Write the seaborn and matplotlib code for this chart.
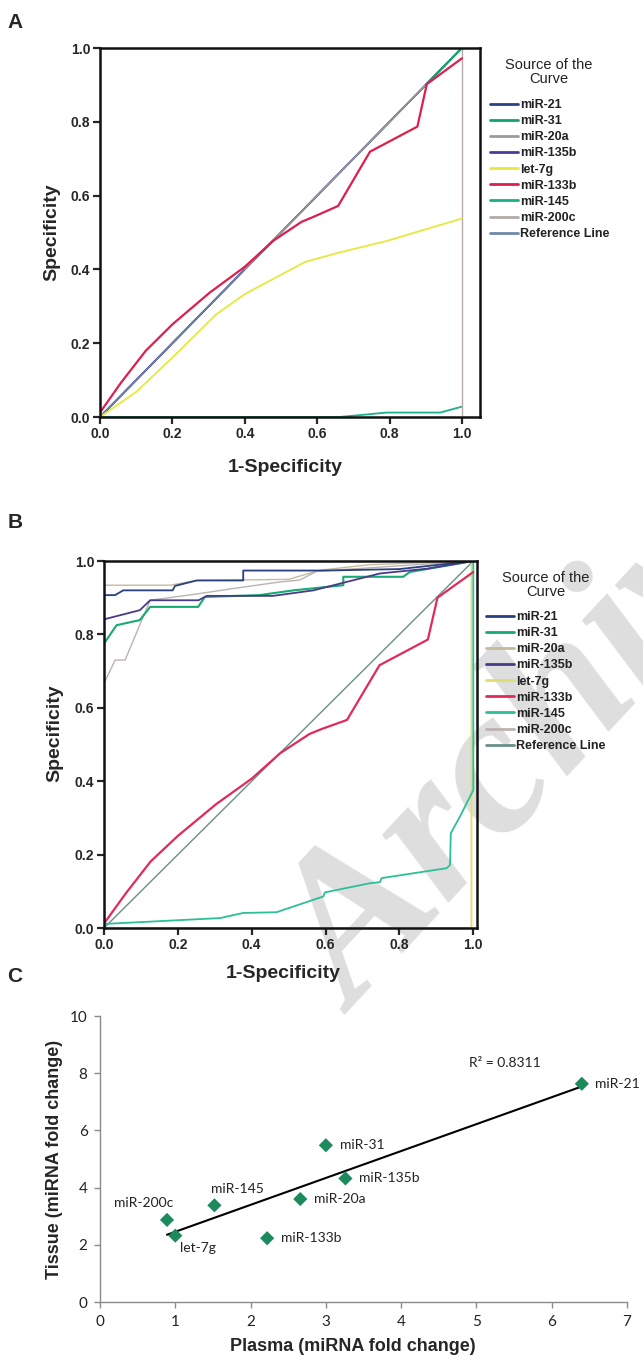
import numpy as np
import pandas as pd
import seaborn as sns
import matplotlib.pyplot as plt
from matplotlib.lines import Line2D

# Style
sns.set_style("ticks")
plt.rcParams['font.family'] = ['Liberation Sans', 'DejaVu Sans']
NARROW = ['Liberation Sans Narrow', 'Liberation Sans', 'DejaVu Sans']
CAL = ['Lato', 'DejaVu Sans']

curve_names = ["miR-21", "miR-31", "miR-20a", "miR-135b", "let-7g",
               "miR-133b", "miR-145", "miR-200c", "Reference Line"]
roc_ticks = [0.0, 0.2, 0.4, 0.6, 0.8, 1.0]
roc_ticklabels = ["0.0", "0.2", "0.4", "0.6", "0.8", "1.0"]

# ---- panel A curves ----
a_21_x = [0, 1.0]
a_21_y = [0, 1.0]
a_31_x = [0.9, 1.0]
a_31_y = [0.9, 1.0]
a_20a_x = [0.4, 1.0]
a_20a_y = [0.4, 1.0]
a_135b_x = [0, 1.0]
a_135b_y = [0, 1.0]
a_let7g_x = [0, 0.1, 0.2, 0.321, 0.4, 0.566, 0.658, 0.792, 1.0]
a_let7g_y = [0, 0.068, 0.161, 0.278, 0.333, 0.42, 0.445, 0.477, 0.538]
a_133b_x = [0, 0.058, 0.126, 0.2, 0.303, 0.4, 0.478, 0.557, 0.589, 0.658, 0.746, 0.877, 0.903, 1.0]
a_133b_y = [0.012, 0.093, 0.179, 0.251, 0.337, 0.407, 0.477, 0.529, 0.542, 0.572, 0.719, 0.787, 0.902, 0.972]
a_145_x = [0, 0.66, 0.75, 0.79, 0.94, 1.0]
a_145_y = [0, 0.0, 0.008, 0.012, 0.012, 0.028]
a_200c_x = [1.0, 1.0]
a_200c_y = [0, 1.0]
a_ref_x = [0, 1.0]
a_ref_y = [0, 1.0]

# ---- panel B curves ----
b_21_x = [0, 0, 0.03, 0.052, 0.186, 0.192, 0.251, 0.377, 0.377, 0.6, 0.8, 1.0]
b_21_y = [0, 0.907, 0.907, 0.92, 0.92, 0.932, 0.947, 0.947, 0.974, 0.974, 0.978, 1.0]
b_31_x = [0, 0, 0.034, 0.097, 0.125, 0.255, 0.273, 0.42, 0.513, 0.648, 0.648, 0.81, 0.828, 1.0]
b_31_y = [0, 0.775, 0.825, 0.839, 0.875, 0.875, 0.902, 0.907, 0.92, 0.934, 0.957, 0.957, 0.97, 1.0]
b_20a_x = [0, 0, 0.18, 0.25, 0.5, 0.585, 0.72, 1.0]
b_20a_y = [0, 0.934, 0.934, 0.947, 0.95, 0.975, 0.99, 1.0]
b_135b_x = [0, 0, 0.097, 0.125, 0.256, 0.278, 0.458, 0.567, 0.657, 0.747, 0.874, 1.0]
b_135b_y = [0, 0.841, 0.866, 0.893, 0.893, 0.905, 0.905, 0.92, 0.943, 0.966, 0.979, 1.0]
b_let7g_x = [0, 0.995, 0.995, 1.0]
b_let7g_y = [0, 0, 0.99, 1.0]
b_133b_x = [0, 0.058, 0.126, 0.2, 0.303, 0.4, 0.478, 0.557, 0.589, 0.658, 0.746, 0.877, 0.903, 1.0]
b_133b_y = [0.012, 0.093, 0.181, 0.251, 0.337, 0.407, 0.477, 0.529, 0.542, 0.567, 0.716, 0.786, 0.9, 0.97]
b_145_x = [0, 0, 0.314, 0.377, 0.467, 0.594, 0.598, 0.72, 0.747, 0.752, 0.928, 0.937, 0.939, 0.964, 1.0, 1.0]
b_145_y = [0, 0.011, 0.027, 0.041, 0.043, 0.086, 0.097, 0.122, 0.125, 0.136, 0.163, 0.172, 0.258, 0.304, 0.376, 1.0]
b_200c_x = [0, 0, 0.03, 0.057, 0.125, 0.25, 0.35, 0.477, 0.53, 0.576, 1.0]
b_200c_y = [0, 0.666, 0.73, 0.73, 0.893, 0.91, 0.925, 0.943, 0.948, 0.972, 1.0]
b_ref_x = [0, 1.0]
b_ref_y = [0, 1.0]

# ---- panel C scatter ----
mirna = ["miR-200c", "let-7g", "miR-145", "miR-133b", "miR-20a", "miR-31", "miR-135b", "miR-21"]
plasma = [0.89, 1.0, 1.52, 2.22, 2.66, 3.0, 3.26, 6.4]
tissue = [2.87, 2.32, 3.38, 2.23, 3.6, 5.48, 4.32, 7.63]
r2_text = "R² = 0.8311"

curves_a = {"miR-21": (a_21_x, a_21_y), "miR-31": (a_31_x, a_31_y),
            "miR-20a": (a_20a_x, a_20a_y), "miR-135b": (a_135b_x, a_135b_y),
            "let-7g": (a_let7g_x, a_let7g_y), "miR-133b": (a_133b_x, a_133b_y),
            "miR-145": (a_145_x, a_145_y), "miR-200c": (a_200c_x, a_200c_y),
            "Reference Line": (a_ref_x, a_ref_y)}
curves_b = {"miR-21": (b_21_x, b_21_y), "miR-31": (b_31_x, b_31_y),
            "miR-20a": (b_20a_x, b_20a_y), "miR-135b": (b_135b_x, b_135b_y),
            "let-7g": (b_let7g_x, b_let7g_y), "miR-133b": (b_133b_x, b_133b_y),
            "miR-145": (b_145_x, b_145_y), "miR-200c": (b_200c_x, b_200c_y),
            "Reference Line": (b_ref_x, b_ref_y)}

colors_a = {"miR-21": "#2b3f8c", "miR-31": "#14a36c", "miR-20a": "#9c9a94",
            "miR-135b": "#4b3a9a", "let-7g": "#e4ea3c", "miR-133b": "#dc1f4c",
            "miR-145": "#19b08a", "miR-200c": "#b4aaaa", "Reference Line": "#6f8aa8"}
colors_b = {"miR-21": "#2a3f7f", "miR-31": "#17aa72", "miR-20a": "#c4bb9e",
            "miR-135b": "#4a3a8a", "let-7g": "#dede6a", "miR-133b": "#e22a5a",
            "miR-145": "#2cbf98", "miR-200c": "#bdb2b2", "Reference Line": "#6a8f86"}
widths = {"miR-21": 1.3, "miR-31": 1.5, "miR-20a": 1.0, "miR-135b": 1.3, "let-7g": 1.3,
          "miR-133b": 1.6, "miR-145": 1.3, "miR-200c": 1.0, "Reference Line": 1.0}
order_a = ["miR-21", "miR-135b", "Reference Line", "miR-20a", "miR-31",
           "miR-145", "miR-200c", "let-7g", "miR-133b"]
order_b = ["Reference Line", "let-7g", "miR-20a", "miR-200c", "miR-145",
           "miR-31", "miR-135b", "miR-21", "miR-133b"]

W, H = 643, 1355
fig = plt.figure(figsize=(W / 100, H / 100), dpi=100)


def box(l, t, r, b):
    return [l / W, 1 - b / H, (r - l) / W, (b - t) / H]


def draw_roc(ax, curves, colors, order, xmax):
    for name in order:
        x, y = curves[name]
        sns.lineplot(x=x, y=y, ax=ax, color=colors[name], lw=widths[name],
                     estimator=None, sort=False, errorbar=None, legend=False)
    ax.set_xlim(0, xmax)
    ax.set_ylim(0, 1)
    ax.set_xticks(roc_ticks)
    ax.set_xticklabels(roc_ticklabels)
    ax.set_yticks(roc_ticks)
    ax.set_yticklabels(roc_ticklabels)
    ax.set_facecolor("none")
    for s in ax.spines.values():
        s.set_linewidth(1.8)
        s.set_color("#111111")
    ax.tick_params(direction="out", length=5, width=1.6, pad=2, labelsize=10)
    for lab in ax.get_xticklabels() + ax.get_yticklabels():
        lab.set_family(NARROW)
        lab.set_fontweight("bold")
    ax.set_xlabel("1-Specificity", fontsize=14, fontweight="bold")
    ax.set_ylabel("Specificity", fontsize=14, fontweight="bold")


def roc_legend(colors, title_x, title_y, left, top):
    fig.text(title_x / W, 1 - title_y / H, "Source of the\nCurve", ha="center", va="center",
             multialignment="center", family=NARROW, fontsize=10.5, color="#222222",
             linespacing=1.05)
    handles = [Line2D([], [], color=colors[n], lw=2) for n in curve_names]
    leg = fig.legend(handles, curve_names,
                     loc="upper left", bbox_to_anchor=(left / W, 1 - top / H),
                     frameon=False, borderpad=0, borderaxespad=0,
                     handlelength=2.2, handletextpad=0.2, labelspacing=0.33,
                     prop={"family": NARROW, "weight": "bold", "size": 9})
    for t in leg.get_texts():
        t.set_color("#222222")


# Panel A
ax_a = fig.add_axes(box(100, 48, 480, 417))
draw_roc(ax_a, curves_a, colors_a, order_a, 1.05)
ax_a.xaxis.set_label_coords(0.487, -0.115)
ax_a.yaxis.set_label_coords(-0.105, 0.5)
roc_legend(colors_a, 549, 72, 490, 99)

# Panel B
ax_b = fig.add_axes(box(104, 561, 477, 928))
draw_roc(ax_b, curves_b, colors_b, order_b, 1.01)
ax_b.xaxis.set_label_coords(0.48, -0.1)
ax_b.yaxis.set_label_coords(-0.11, 0.53)
roc_legend(colors_b, 546, 585, 486, 611)

# Panel C
ax_c = fig.add_axes(box(100, 1016, 627, 1302))
ax_c.set_facecolor("none")
sns.regplot(x=plasma, y=tissue, ax=ax_c, ci=None, truncate=True, marker="D",
            color="#1c8a5c",
            scatter_kws={"s": 52, "edgecolor": "none", "alpha": 1, "zorder": 3},
            line_kws={"color": "black", "lw": 1.5})
ax_c.set_xlim(0, 7)
ax_c.set_ylim(0, 10)
ax_c.set_xticks(range(0, 8))
ax_c.set_yticks(range(0, 11, 2))
sns.despine(ax=ax_c)
for s in ["left", "bottom"]:
    ax_c.spines[s].set_color("#8a8a8a")
    ax_c.spines[s].set_linewidth(1.0)
ax_c.tick_params(direction="out", length=4, width=1, color="#8a8a8a", pad=5, labelsize=11)
for lab in ax_c.get_xticklabels() + ax_c.get_yticklabels():
    lab.set_family(CAL)
    lab.set_color("#222222")
ax_c.set_xlabel("Plasma (miRNA fold change)", fontsize=13, fontweight="bold")
ax_c.set_ylabel("Tissue (miRNA fold change)", fontsize=13, fontweight="bold")
ax_c.xaxis.set_label_coords(0.48, -0.125)
ax_c.yaxis.set_label_coords(-0.07, 0.5)

label_offsets = {"miR-200c": (-16.5, 12, "center"), "let-7g": (16.5, -8.6, "center"),
                 "miR-145": (16.5, 12, "center"), "miR-133b": (10, 0, "left"),
                 "miR-20a": (10, 0, "left"), "miR-31": (10, 0, "left"),
                 "miR-135b": (10, 0, "left"), "miR-21": (9.5, 0, "left")}
for name, px, ty in zip(mirna, plasma, tissue):
    dx, dy, ha = label_offsets[name]
    ax_c.annotate(name, (px, ty), xytext=(dx, dy), textcoords="offset points",
                  ha=ha, va="center", fontsize=10, family=CAL, color="#222222",
                  annotation_clip=False)
ax_c.text(4.9, 8.35, r2_text, ha="left", va="center", fontsize=10, family=CAL,
          color="#222222")

# Panel letters
for letter, ypx in [("A", 23), ("B", 523), ("C", 977)]:
    fig.text(15 / W, 1 - ypx / H, letter, fontsize=15, fontweight="bold",
             ha="center", va="center")

# watermark
fig.text(355 / W, 1 - 1015 / H, "Archive", rotation=47, fontsize=150,
         family=["Liberation Serif", "DejaVu Serif"], fontweight="bold", style="italic",
         color="#dedede", ha="left", va="baseline", rotation_mode="anchor", zorder=-1)

fig.savefig("out.png", dpi=100, facecolor="white")
